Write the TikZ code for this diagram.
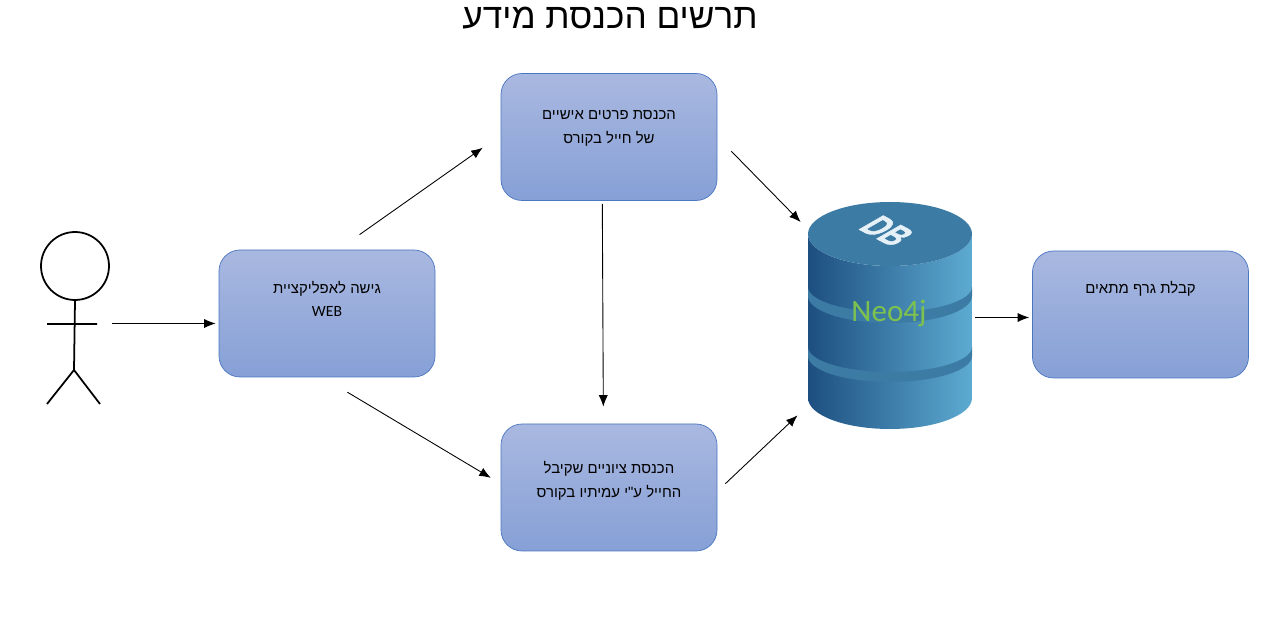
\documentclass[tikz,border=0pt]{standalone}
\usepackage{fontspec}
\setmainfont{Liberation Sans}
\newfontfamily\hebfont[Script=Hebrew]{Liberation Sans}
\newfontfamily\latinfont{Carlito}
\newfontfamily\tagfont[UprightFont=* Bold, FakeBold=1.5]{Liberation Sans}
\TeXXeTstate=1
\usetikzlibrary{arrows.meta}
\newcommand{\heb}[1]{\beginR #1\endR}
\newcommand{\boxlift}[1]{\rule[-#1]{0pt}{0pt}}
\definecolor{boxtop}{HTML}{A9B8E0}
\definecolor{boxbottom}{HTML}{86A0D6}
\definecolor{boxline}{HTML}{4A76C0}
\definecolor{dbleft}{HTML}{1D4F80}
\definecolor{dbmiddle}{HTML}{3A7AA6}
\definecolor{dbright}{HTML}{5DABD2}
\definecolor{dbband}{HTML}{3C7BA4}
\definecolor{dblabel}{HTML}{7DC24F}
\definecolor{dbtag}{HTML}{E6F0F7}
\tikzset{
  stepbox/.style={draw=boxline, rounded corners=0.42cm, top color=boxtop, bottom color=boxbottom,
    minimum width=4.32cm, minimum height=2.54cm, align=center,
    font=\hebfont\fontsize{8.5}{13.4}\selectfont},
  flow/.style={-{Latex[length=6.5pt,width=5.2pt]}, line width=0.5pt},
  stick/.style={line width=1pt}
}
\begin{document}
\begin{tikzpicture}
\useasboundingbox (0,0) rectangle (25.34,12.44);

\node[font=\hebfont\fontsize{20}{24}\selectfont] (title) at (12.2,12.07) {\heb{תרשים הכנסת מידע}};

\node[draw, stick, circle, minimum size=1.36cm, inner sep=0pt] (head) at (1.5,7.12) {};
\coordinate (hip) at (1.48,5.04);
\coordinate (lefthand) at (0.94,5.96);
\coordinate (righthand) at (1.94,5.96);
\coordinate (leftfoot) at (0.94,4.36);
\coordinate (rightfoot) at (2.0,4.36);
\draw[stick] (head.south) -- (hip) (lefthand) -- (righthand);
\draw[stick] (leftfoot) -- (hip) -- (rightfoot);

\node[stepbox] (web) at (6.54,6.17) {\heb{גישה לאפליקציית}\\{\latinfont\fontsize{8.9}{13.4}\selectfont WEB}\boxlift{16.5pt}};
\node[stepbox] (personal) at (12.18,9.70) {\heb{הכנסת פרטים אישיים}\\\heb{של חייל בקורס}\boxlift{11.4pt}};
\node[stepbox] (grades) at (12.18,2.69) {\heb{הכנסת ציוניים שקיבל}\\\heb{החייל ע"י עמיתיו בקורס}\boxlift{9pt}};
\node[stepbox] (result) at (22.81,6.15) {\heb{קבלת גרף מתאים}\boxlift{31pt}};

\shade[left color=dbleft, middle color=dbmiddle, right color=dbright]
  (16.16,7.76) -- (16.16,4.48) arc[start angle=180, end angle=360, x radius=1.64, y radius=0.62]
  -- (19.44,7.76) arc[start angle=0, end angle=-180, x radius=1.64, y radius=0.64];
\fill[dbband] (16.16,6.70) arc[start angle=180, end angle=360, x radius=1.64, y radius=0.5]
  -- (19.44,6.52) arc[start angle=360, end angle=180, x radius=1.64, y radius=0.54] -- cycle;
\fill[dbband] (16.16,5.50) arc[start angle=180, end angle=360, x radius=1.64, y radius=0.5]
  -- (19.44,5.32) arc[start angle=360, end angle=180, x radius=1.64, y radius=0.52] -- cycle;
\fill[dbband] (17.8,7.76) ellipse[x radius=1.64, y radius=0.64];
\node[text=dbtag, font=\tagfont\fontsize{23}{23}\selectfont, transform shape,
  cm={0.6,-0.32,0.87,0.5,(17.74,7.82)}] (tag) at (0,0) {DB};
\node[minimum width=3.28cm, minimum height=4.54cm, inner sep=0pt] (db) at (17.8,6.09) {};
\node[text=dblabel, font=\latinfont\fontsize{17.7}{20}\selectfont] (neo) at (17.78,6.18) {Neo4j};

\coordinate (hand) at (1.94,5.97);
\draw[flow, shorten <=0.3cm, shorten >=0.06cm] (hand) -- (hand -| web.west);
\draw[flow, shorten <=0.52cm, shorten >=0.44cm] (web.80) -- (personal.179);
\draw[flow, shorten <=0.58cm, shorten >=0.23cm] (web.-94) -- (grades.178);
\draw[flow, shorten <=0.06cm, shorten >=0.34cm] (personal.-96) -- (grades.95);
\draw[flow, shorten <=0.4cm, shorten >=0.2cm] (personal.east) -- (db.133);
\draw[flow, shorten <=0.22cm, shorten >=0.28cm] (grades.-2) -- (db.227);
\draw[flow, shorten <=0.06cm, shorten >=0.06cm] (db.east) -- (db.east -| result.west);
\end{tikzpicture}
\end{document}
